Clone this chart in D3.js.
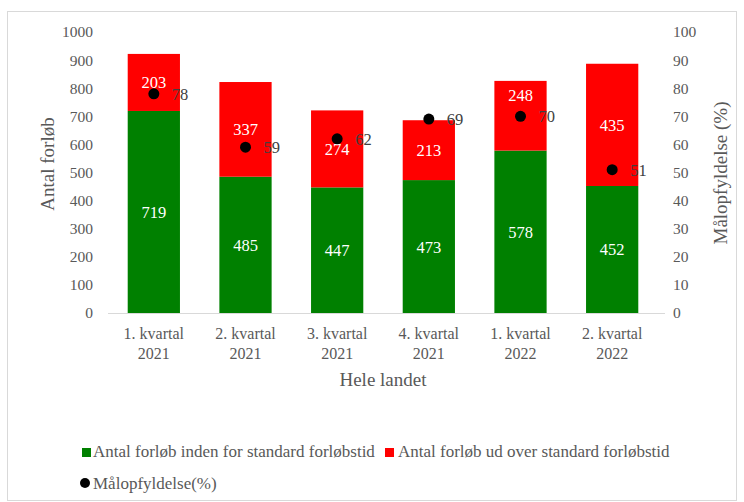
<!DOCTYPE html>
<html><head><meta charset="utf-8">
<script src="https://cdn.jsdelivr.net/npm/d3@7"></script>
</head><body style="margin:0;background:#fff">
<svg id="c" width="744" height="502"></svg>
<script>
const categories = [["1. kvartal","2021"],["2. kvartal","2021"],["3. kvartal","2021"],["4. kvartal","2021"],["1. kvartal","2022"],["2. kvartal","2022"]];
const inden = [719,485,447,473,578,452];
const udover = [203,337,274,213,248,435];
const maal = [78,59,62,69,70,51];
const leftTicks = [0,100,200,300,400,500,600,700,800,900,1000];
const rightTicks = [0,10,20,30,40,50,60,70,80,90,100];
const seriesNames = ["Antal forløb inden for standard forløbstid","Antal forløb ud over standard forløbstid","Målopfyldelse(%)"];

const FONT = '"Liberation Serif","Times New Roman",Times,serif';
const svg = d3.select("#c");
svg.append("rect").attr("x",7.5).attr("y",11.5).attr("width",729).attr("height",489).attr("fill","#fff").attr("stroke","#d9d9d9");
const L=108,R=658,T=32,B=313;
const x = d3.scaleBand().domain(d3.range(categories.length)).range([L,R]).paddingInner(0.43).paddingOuter(0.215);
const y = d3.scaleLinear().domain([0,1000]).range([B,T]);
const y2 = d3.scaleLinear().domain([0,100]).range([B,T]);
const gray="#595959";

svg.append("line").attr("x1",L).attr("x2",R+7).attr("y1",B+0.5).attr("y2",B+0.5).attr("stroke","#d9d9d9");

const ga = svg.append("g").attr("transform",`translate(${L-15},0)`).call(d3.axisLeft(y).tickValues(leftTicks).tickFormat(d3.format("d")).tickSize(0).tickPadding(0));
ga.select(".domain").remove();
ga.selectAll("text").attr("font-size",15.5).attr("fill",gray);
const gb = svg.append("g").attr("transform",`translate(${R+15},0)`).call(d3.axisRight(y2).tickValues(rightTicks).tickFormat(d3.format("d")).tickSize(0).tickPadding(0));
gb.select(".domain").remove();
gb.selectAll("text").attr("font-size",15.5).attr("fill",gray);

const idx = d3.range(categories.length);
const cx = i => x(i)+x.bandwidth()/2;
svg.selectAll(".g").data(idx).enter().append("rect").attr("x",i=>x(i)).attr("width",x.bandwidth())
  .attr("y",i=>y(inden[i])).attr("height",i=>y(0)-y(inden[i])).attr("fill","#008000");
svg.selectAll(".r").data(idx).enter().append("rect").attr("x",i=>x(i)).attr("width",x.bandwidth())
  .attr("y",i=>y(inden[i]+udover[i])).attr("height",i=>y(inden[i])-y(inden[i]+udover[i])).attr("fill","#ff0000");

svg.selectAll(".gl").data(idx).enter().append("text").attr("x",cx).attr("y",i=>y(inden[i]/2)+6)
  .attr("text-anchor","middle").attr("font-size",16.5).attr("fill","#fff").text(i=>inden[i]);
// red labels: centred in segment, moved above the dot if they would sit right on it
const redLabelY = i => {
  const mid = y(inden[i]+udover[i]/2), dot = y2(maal[i]);
  return Math.abs(mid-dot) < 6 ? dot-21 : mid;
};
svg.selectAll(".rl").data(idx).enter().append("text").attr("x",cx).attr("y",i=>redLabelY(i)+6)
  .attr("text-anchor","middle").attr("font-size",16.5).attr("fill","#fff").text(i=>udover[i]);

svg.selectAll(".d").data(idx).enter().append("circle").attr("cx",cx).attr("cy",i=>y2(maal[i])).attr("r",5.5).attr("fill","#000");
svg.selectAll(".dl").data(idx).enter().append("text").attr("x",i=>cx(i)+18).attr("y",i=>y2(maal[i])+6)
  .attr("font-size",16.5).attr("fill","#404040").text(i=>maal[i]);

idx.forEach(i=>{
  const t = svg.append("text").attr("x",cx(i)).attr("y",339).attr("text-anchor","middle").attr("font-size",16).attr("fill",gray);
  t.append("tspan").attr("x",cx(i)).text(categories[i][0]);
  t.append("tspan").attr("x",cx(i)).attr("dy",20).text(categories[i][1]);
});

svg.append("text").attr("x",383).attr("y",386).attr("text-anchor","middle").attr("font-size",19).attr("fill",gray).text("Hele landet");
svg.append("text").attr("transform","translate(54,164) rotate(-90)").attr("text-anchor","middle").attr("font-size",19).attr("fill",gray).text("Antal forløb");
svg.append("text").attr("transform","translate(727,173) rotate(-90)").attr("text-anchor","middle").attr("font-size",19).attr("fill",gray).text("Målopfyldelse (%)");

svg.append("rect").attr("x",82).attr("y",448).attr("width",9).attr("height",9).attr("fill","#008000");
const l1 = svg.append("text").attr("x",93).attr("y",457).attr("font-size",17).attr("fill",gray).text(seriesNames[0]);
svg.append("rect").attr("x",385).attr("y",448).attr("width",9).attr("height",9).attr("fill","#ff0000");
svg.append("text").attr("x",398).attr("y",457).attr("font-size",17).attr("fill",gray).text(seriesNames[1]);
svg.append("circle").attr("cx",85).attr("cy",483).attr("r",5).attr("fill","#000");
svg.append("text").attr("x",93).attr("y",489).attr("font-size",17).attr("fill",gray).text(seriesNames[2]);

svg.selectAll("text").style("font-family",FONT);
</script>
</body></html>
